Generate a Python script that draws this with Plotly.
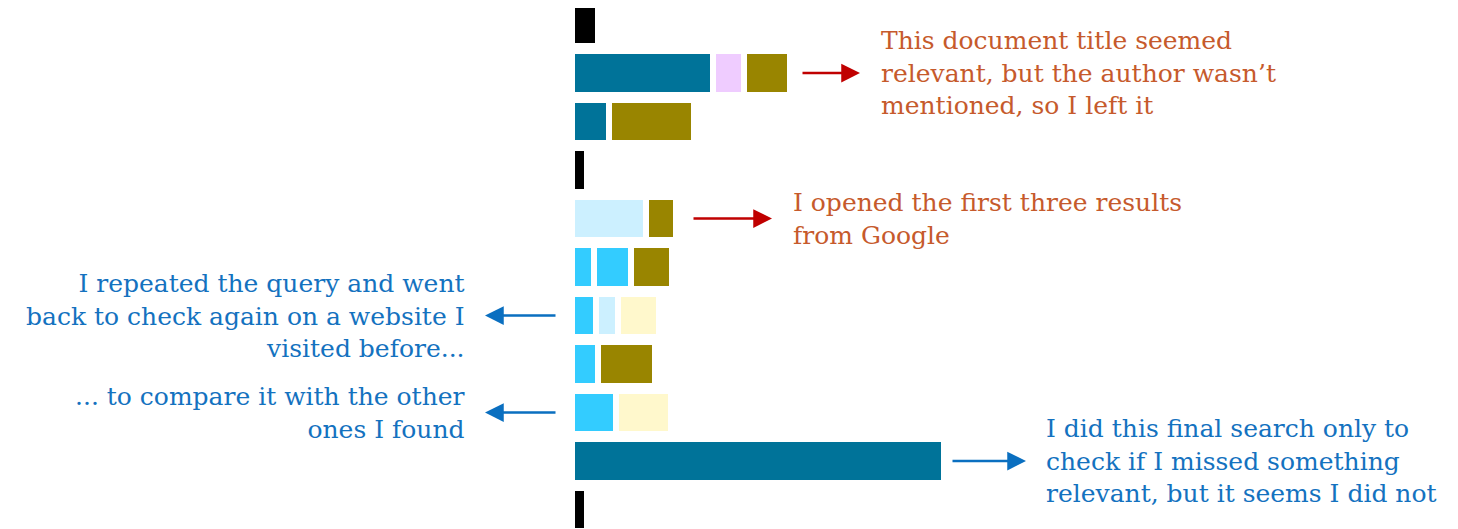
import plotly.graph_objects as go

# ---- data ----
rows = list(range(11))
seg1 = [20, 135, 31, 9, 68, 16, 18, 20, 38, 366, 9]
seg1_kind = ["black", "teal", "teal", "black", "lightblue", "cyan", "cyan", "cyan", "cyan", "teal", "black"]
seg2 = [0, 25, 79, 0, 24, 31, 16, 51, 49, 0, 0]
seg2_kind = [None, "pink", "olive", None, "olive", "cyan", "lightcyan", "olive", "cream", None, None]
seg3 = [0, 40, 0, 0, 0, 35, 35, 0, 0, 0, 0]
seg3_kind = [None, "olive", None, None, None, "olive", "cream", None, None, None, None]

palette = {
    "black": "#000000",
    "teal": "#007399",
    "pink": "#efccff",
    "olive": "#998500",
    "lightblue": "#ccf0ff",
    "cyan": "#33ccff",
    "lightcyan": "#ccf0ff",
    "cream": "#fff8cc",
    None: "rgba(0,0,0,0)",
}
GAP = 6

gap1 = [GAP if v > 0 else 0 for v in seg2]
gap2 = [GAP if v > 0 else 0 for v in seg3]

fig = go.Figure()

def add(vals, kinds, visible=True):
    fig.add_trace(go.Bar(
        y=rows, x=vals, orientation="h",
        marker=dict(color=[palette[k] for k in kinds] if visible else "rgba(0,0,0,0)",
                    line=dict(width=0)),
        width=0.775, hoverinfo="skip", showlegend=False,
    ))

add(seg1, seg1_kind)
add(gap1, [None]*11, visible=False)
add(seg2, seg2_kind)
add(gap2, [None]*11, visible=False)
add(seg3, seg3_kind)

FONT = "DejaVu Serif"
ORANGE = "#c65a2c"
BLUE = "#1472bf"
RED = "#c00000"
ARROW_BLUE = "#0a6fc0"

PAGE = 8            # page offset of the figure
OFF = 575 - PAGE    # figure x pixel of zero

def arrow(x0, x1, y, color):
    fig.add_annotation(x=x1 - 575, y=y, ax=x0 - 575, ay=y, xref="x", yref="y",
                       axref="x", ayref="y", text="", showarrow=True,
                       arrowhead=2, arrowsize=1.5, arrowwidth=2.5, arrowcolor=color)

def label(x, y, text, color, anchor):
    fig.add_annotation(x=x - 575, y=y, xref="x", yref="y", text=text, showarrow=False,
                       xanchor=anchor, yanchor="middle", align=anchor,
                       font=dict(family=FONT, size=25, color=color))

arrow(801, 860, 1, RED)
label(879, 1, "This document title seemed<br>relevant, but the author wasn’t<br>mentioned, so I left it", ORANGE, "left")
arrow(692, 772, 4, RED)
label(791, 4, "I opened the first three results<br>from Google", ORANGE, "left")
arrow(557, 485, 6, ARROW_BLUE)
label(467, 6, "I repeated the query and went<br>back to check again on a website I<br>visited before...", BLUE, "right")
arrow(557, 485, 8, ARROW_BLUE)
label(467, 8, "... to compare it with the other<br>ones I found", BLUE, "right")
arrow(951, 1026, 9, ARROW_BLUE)
label(1044, 9, "I did this final search only to<br>check if I missed something<br>relevant, but it seems I did not", BLUE, "left")

PITCH = 48.5
top_center = 24.5 - PAGE
bottom_center = 509.5 - PAGE
fig.update_layout(
    width=1458, height=529,
    margin=dict(l=0, r=0, t=0, b=0),
    barmode="stack", bargap=0,
    paper_bgcolor="white", plot_bgcolor="white",
    xaxis=dict(range=[-OFF, 1458 - OFF], visible=False, fixedrange=True),
    yaxis=dict(range=[10 + (529 - bottom_center) / PITCH, -top_center / PITCH],
               visible=False, fixedrange=True),
)

fig.write_html("out.html")
